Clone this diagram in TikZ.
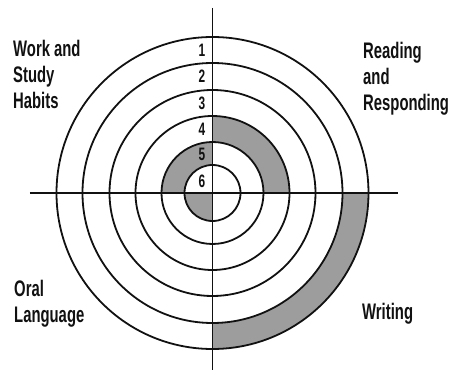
\documentclass[tikz,border=0pt]{standalone}
\usepackage{fontspec}
\setmainfont{Liberation Sans}[FakeStretch=0.66]
\usepackage{tikz}
\usetikzlibrary{calc, positioning}
\definecolor{Ink}   {HTML}{111111}
\definecolor{Shade} {HTML}{8C8C8C}

\tikzset{
  ring/.style   = {draw=Ink, line width=1.8pt},
  axis/.style   = {draw=Ink, line width=1.6pt},
  band/.style   = {fill=Shade!85, draw=none},
  area/.style   = {font=\fontsize{22.5}{26}\selectfont\bfseries, text=Ink,
                   align=left, anchor=north west, inner sep=0pt},
  ringno/.style = {font=\fontsize{18}{18}\selectfont\bfseries, text=Ink,
                   inner sep=0pt}
}

\begin{document}
\begin{tikzpicture}[x=1pt, y=1pt]
  \useasboundingbox (-212.5,193) rectangle (238.5,-179);
  \coordinate (c) at (0,0);
  % Shaded bands, one per area
  \path[band] (0:51pt) arc[start angle=0, end angle=90, radius=51pt]
    -- (90:77pt) arc[start angle=90, end angle=0, radius=77pt] -- cycle;
  \path[band] (90:28pt) arc[start angle=90, end angle=180, radius=28pt]
    -- (180:51pt) arc[start angle=180, end angle=90, radius=51pt] -- cycle;
  \path[band] (c) -- (180:28pt) arc[start angle=180, end angle=270, radius=28pt] -- cycle;
  \path[band] (270:130pt) arc[start angle=270, end angle=360, radius=130pt]
    -- (0:156pt) arc[start angle=360, end angle=270, radius=156pt] -- cycle;
  % Rings
  \foreach \r in {28,51,77,103,130,156}
    \draw[ring] (c) circle[radius=\r pt];
  % Axes
  \coordinate (top)    at (0,185);
  \coordinate (bottom) at (0,-177);
  \coordinate (left)   at (-182.5,0);
  \coordinate (right)  at (185.5,0);
  \draw[axis] (top) -- (bottom);
  \draw[axis] (left) -- (right);
  % Ring numbers
  \node[ringno] (n1) at (-10.5,143)  {1};
  \node[ringno] (n2) at (-10.5,116.5) {2};
  \node[ringno] (n3) at (-10.5,90)   {3};
  \node[ringno] (n4) at (-10.5,64)   {4};
  \node[ringno] (n5) at (-10.5,39)   {5};
  \node[ringno] (n6) at (-10.5,12)   {6};
  % Area labels
  \node[area] (work)    at (-199.5,153) {Work and\\Study\\Habits};
  \node[area] (reading) at (150.5,151)  {Reading\\and\\Responding};
  \node[area] (oral)    at (-198.5,-87) {Oral\\Language};
  \node[area] (writing) at (149.5,-110) {Writing};
\end{tikzpicture}
\end{document}
